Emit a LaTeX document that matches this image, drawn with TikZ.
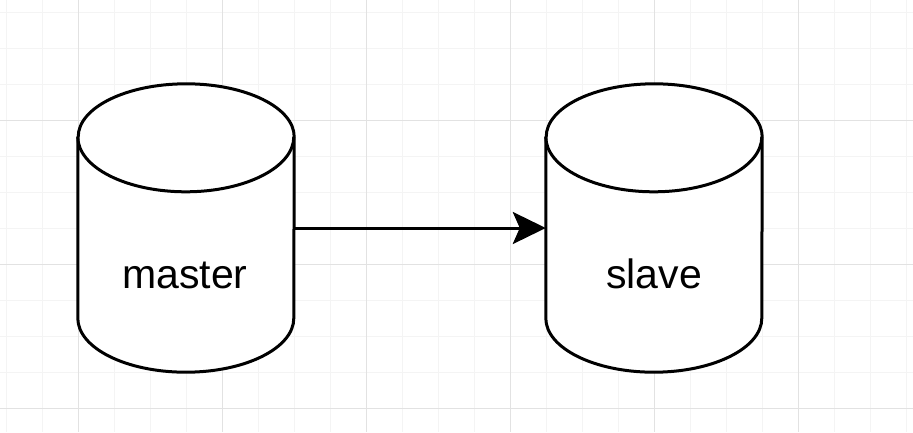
\documentclass[tikz,border=0pt]{standalone}
\usepackage{fontspec}
\setmainfont{Liberation Sans}
\usetikzlibrary{arrows.meta}
\definecolor{gridminor}{RGB}{244,244,244}
\definecolor{gridmajor}{RGB}{226,226,226}
\tikzset{
  dbbody/.style={minimum width=216pt, minimum height=288pt, inner sep=0pt, draw=none},
  dbline/.style={line width=3pt, draw=black, fill=white, line join=round},
  dblabel/.style={anchor=base, font=\fontsize{41}{41}\selectfont, inner sep=0pt},
  link/.style={line width=3pt, -{Stealth[length=33pt, width=32pt, inset=7pt]}}
}
\newcommand{\drawdb}[1]{%
  \path[dbline] (#1.north west) ++(0,-53pt) -- ($(#1.south west)+(0,54pt)$)
    arc[start angle=180, end angle=360, x radius=108pt, y radius=54pt]
    -- ($(#1.north east)+(0,-53pt)$)
    arc[start angle=0, end angle=180, x radius=108pt, y radius=53pt] -- cycle;
  \draw[line width=3pt] ($(#1.north west)+(0,-53pt)$)
    arc[start angle=180, end angle=360, x radius=108pt, y radius=55pt];
}
\usetikzlibrary{calc}
\begin{document}
\begin{tikzpicture}[x=1pt,y=-1pt]
\useasboundingbox (0,0) rectangle (913,432);
\fill[white] (0,0) rectangle (913,432);
\foreach \i in {6,42,...,913} \draw[gridminor, line width=1pt] (\i,0) -- (\i,432);
\foreach \j in {12,48,...,432} \draw[gridminor, line width=1pt] (0,\j) -- (913,\j);
\foreach \i in {78,222,...,913} \draw[gridmajor, line width=1pt] (\i,0) -- (\i,432);
\foreach \j in {120,264,408} \draw[gridmajor, line width=1pt] (0,\j) -- (913,\j);

\node[dbbody] (master) at (186,228) {};
\node[dbbody] (slave) at (654,228) {};
\drawdb{master}
\drawdb{slave}
\node[dblabel] (masterlabel) at (185,288.5) {master};
\node[dblabel] (slavelabel) at (654,288.5) {slave};
\draw[link] (master.east) -- (slave.west);
\end{tikzpicture}
\end{document}
